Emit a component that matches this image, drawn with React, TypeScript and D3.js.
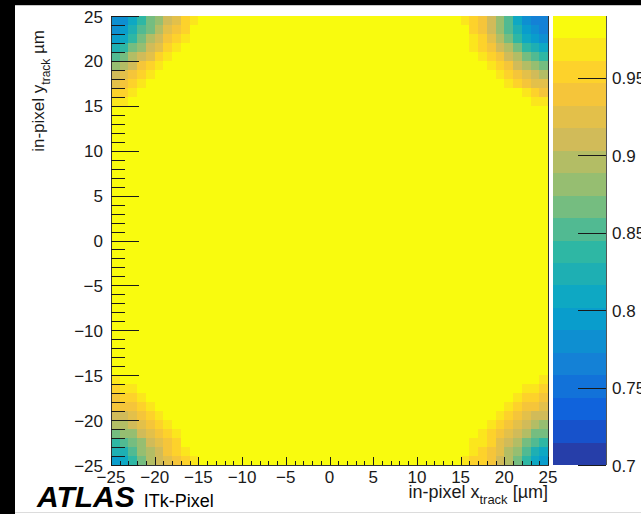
import React from 'react';
import * as d3 from 'd3';

// ---------- data ----------
const xRange = [-25, 25];
const yRange = [-25, 25];
const nBinsX = 50;
const nBinsY = 50;
const zMin = 0.7;
const zMax = 0.99;
const nContours = 20;
const plateauEfficiency = 0.983;

// corner efficiencies: row 0 = edge row at the corner, col 0 = edge column at the corner
const cornerTopLeft = [
  [0.780, 0.780, 0.809, 0.838, 0.867, 0.881, 0.910, 0.925, 0.954, 0.968],
  [0.780, 0.794, 0.823, 0.852, 0.867, 0.896, 0.925, 0.939, 0.954, 0.983],
  [0.794, 0.809, 0.838, 0.867, 0.896, 0.910, 0.939, 0.954, 0.968, 0.983],
  [0.823, 0.838, 0.867, 0.881, 0.910, 0.925, 0.954, 0.968, 0.983, 0.983],
  [0.852, 0.867, 0.896, 0.910, 0.925, 0.954, 0.968, 0.983, 0.983, 0.983],
  [0.881, 0.896, 0.910, 0.939, 0.954, 0.968, 0.983, 0.983, 0.983, 0.983],
  [0.910, 0.925, 0.939, 0.954, 0.968, 0.983, 0.983, 0.983, 0.983, 0.983],
  [0.925, 0.939, 0.954, 0.968, 0.983, 0.983, 0.983, 0.983, 0.983, 0.983],
  [0.954, 0.954, 0.968, 0.983, 0.983, 0.983, 0.983, 0.983, 0.983, 0.983],
  [0.968, 0.968, 0.983, 0.983, 0.983, 0.983, 0.983, 0.983, 0.983, 0.983],
];
const cornerTopRight = [
  [0.765, 0.765, 0.780, 0.809, 0.852, 0.881, 0.910, 0.939, 0.954, 0.968],
  [0.765, 0.780, 0.794, 0.823, 0.852, 0.881, 0.910, 0.939, 0.954, 0.983],
  [0.780, 0.794, 0.809, 0.838, 0.867, 0.896, 0.925, 0.954, 0.968, 0.983],
  [0.809, 0.823, 0.838, 0.867, 0.896, 0.910, 0.939, 0.954, 0.968, 0.983],
  [0.838, 0.852, 0.867, 0.896, 0.910, 0.939, 0.954, 0.968, 0.983, 0.983],
  [0.867, 0.881, 0.896, 0.910, 0.939, 0.954, 0.968, 0.983, 0.983, 0.983],
  [0.896, 0.910, 0.925, 0.939, 0.954, 0.968, 0.983, 0.983, 0.983, 0.983],
  [0.925, 0.925, 0.939, 0.954, 0.968, 0.983, 0.983, 0.983, 0.983, 0.983],
  [0.939, 0.954, 0.968, 0.983, 0.983, 0.983, 0.983, 0.983, 0.983, 0.983],
  [0.968, 0.968, 0.983, 0.983, 0.983, 0.983, 0.983, 0.983, 0.983, 0.983],
];
const cornerBottomLeft = [
  [0.794, 0.809, 0.838, 0.867, 0.896, 0.910, 0.925, 0.939, 0.954, 0.968],
  [0.823, 0.823, 0.852, 0.881, 0.896, 0.910, 0.939, 0.954, 0.968, 0.983],
  [0.838, 0.852, 0.867, 0.881, 0.910, 0.925, 0.939, 0.954, 0.983, 0.983],
  [0.867, 0.881, 0.881, 0.910, 0.925, 0.939, 0.954, 0.968, 0.983, 0.983],
  [0.896, 0.896, 0.910, 0.925, 0.939, 0.954, 0.968, 0.983, 0.983, 0.983],
  [0.910, 0.910, 0.925, 0.939, 0.954, 0.968, 0.983, 0.983, 0.983, 0.983],
  [0.939, 0.939, 0.939, 0.954, 0.968, 0.983, 0.983, 0.983, 0.983, 0.983],
  [0.939, 0.954, 0.954, 0.968, 0.983, 0.983, 0.983, 0.983, 0.983, 0.983],
  [0.954, 0.968, 0.968, 0.983, 0.983, 0.983, 0.983, 0.983, 0.983, 0.983],
  [0.968, 0.983, 0.983, 0.983, 0.983, 0.983, 0.983, 0.983, 0.983, 0.983],
];
const cornerBottomRight = [
  [0.794, 0.809, 0.838, 0.867, 0.896, 0.910, 0.939, 0.954, 0.954, 0.968],
  [0.809, 0.823, 0.852, 0.881, 0.896, 0.925, 0.939, 0.954, 0.968, 0.983],
  [0.838, 0.852, 0.867, 0.896, 0.910, 0.925, 0.954, 0.968, 0.968, 0.983],
  [0.867, 0.867, 0.896, 0.910, 0.925, 0.939, 0.954, 0.968, 0.983, 0.983],
  [0.881, 0.896, 0.910, 0.925, 0.939, 0.954, 0.968, 0.983, 0.983, 0.983],
  [0.910, 0.910, 0.925, 0.939, 0.954, 0.968, 0.983, 0.983, 0.983, 0.983],
  [0.925, 0.939, 0.939, 0.954, 0.968, 0.983, 0.983, 0.983, 0.983, 0.983],
  [0.939, 0.954, 0.954, 0.968, 0.983, 0.983, 0.983, 0.983, 0.983, 0.983],
  [0.954, 0.968, 0.968, 0.983, 0.983, 0.983, 0.983, 0.983, 0.983, 0.983],
  [0.968, 0.983, 0.983, 0.983, 0.983, 0.983, 0.983, 0.983, 0.983, 0.983],
];

const xTickValues = [-25, -20, -15, -10, -5, 0, 5, 10, 15, 20, 25];
const yTickValues = [-25, -20, -15, -10, -5, 0, 5, 10, 15, 20, 25];
const zTickValues = [0.7, 0.75, 0.8, 0.85, 0.9, 0.95];
const zTickLabels = ['0.7', '0.75', '0.8', '0.85', '0.9', '0.95'];

// ROOT kBird palette stops
const birdStops = [0.0, 0.125, 0.25, 0.375, 0.5, 0.625, 0.75, 0.875, 1.0];
const birdRed = [0.2082, 0.0592, 0.0780, 0.0232, 0.1802, 0.5301, 0.8186, 0.9956, 0.9764];
const birdGreen = [0.1664, 0.3599, 0.5041, 0.6419, 0.7178, 0.7492, 0.7328, 0.7862, 0.9832];
const birdBlue = [0.5293, 0.8684, 0.8385, 0.7914, 0.6425, 0.4662, 0.3499, 0.1968, 0.0539];

// ---------- layout ----------
const W = 641;
const H = 514;
const plot = { left: 111, right: 548, top: 16, bottom: 465 };
const cbar = { left: 553, right: 606 };
const FONT = "'Liberation Sans', Arial, Helvetica, sans-serif";
const INK = '#1a1a1a';

const birdScale = d3
  .scaleLinear<string>()
  .domain(birdStops)
  .range(birdStops.map((_, i) => d3.rgb(birdRed[i] * 255, birdGreen[i] * 255, birdBlue[i] * 255).toString()))
  .interpolate(d3.interpolateRgb)
  .clamp(true);

const dz = (zMax - zMin) / nContours;
const bandOf = (z: number) => Math.max(0, Math.min(nContours - 1, Math.floor((z - zMin) / dz)));
const bandColor = (b: number) => birdScale(Math.min(1, (b + 0.99) / nContours));

function buildGrid(): number[][] {
  const g: number[][] = [];
  for (let i = 0; i < nBinsX; i++) {
    g.push(new Array(nBinsY).fill(plateauEfficiency));
  }
  for (let r = 0; r < cornerTopLeft.length; r++) {
    for (let c = 0; c < cornerTopLeft[r].length; c++) {
      g[c][nBinsY - 1 - r] = cornerTopLeft[r][c];
      g[nBinsX - 1 - c][nBinsY - 1 - r] = cornerTopRight[r][c];
      g[c][r] = cornerBottomLeft[r][c];
      g[nBinsX - 1 - c][r] = cornerBottomRight[r][c];
    }
  }
  return g;
}

export default function App() {
  const x = d3.scaleLinear().domain(xRange).range([plot.left, plot.right]);
  const y = d3.scaleLinear().domain(yRange).range([plot.bottom, plot.top]);
  const zs = d3.scaleLinear().domain([zMin, zMax]).range([plot.bottom, plot.top]);
  const grid = buildGrid();
  const bw = (xRange[1] - xRange[0]) / nBinsX;
  const bh = (yRange[1] - yRange[0]) / nBinsY;

  const cells: JSX.Element[] = [];
  for (let i = 0; i < nBinsX; i++) {
    for (let j = 0; j < nBinsY; j++) {
      const x0 = Math.round(x(xRange[0] + i * bw));
      const x1 = Math.round(x(xRange[0] + (i + 1) * bw));
      const y0 = Math.round(y(yRange[0] + (j + 1) * bh));
      const y1 = Math.round(y(yRange[0] + j * bh));
      cells.push(
        <rect key={`c${i}-${j}`} x={x0} y={y0} width={x1 - x0} height={y1 - y0} fill={bandColor(bandOf(grid[i][j]))} />
      );
    }
  }

  const minorX = d3.range(xRange[0], xRange[1] + 0.001, 1).filter((v) => !xTickValues.includes(v));
  const minorY = d3.range(yRange[0], yRange[1] + 0.001, 1).filter((v) => !yTickValues.includes(v));

  const bands = d3.range(nContours).map((b) => {
    const y0 = Math.round(zs(zMin + (b + 1) * dz));
    const y1 = Math.round(zs(zMin + b * dz));
    return <rect key={`b${b}`} x={cbar.left} y={y0} width={cbar.right - cbar.left} height={y1 - y0} fill={bandColor(b)} />;
  });

  return (
    <div style={{ position: 'absolute', left: 0, top: 0, width: W, height: H }}>
      <svg width={W} height={H} style={{ display: 'block' }} fontFamily={FONT}>
        <rect x={0} y={0} width={W} height={H} fill="#ffffff" />
        <rect x={0} y={0} width={W} height={5} fill="#000000" />
        <rect x={0} y={0} width={15} height={H} fill="#000000" />
        <line x1={15} x2={W} y1={5.5} y2={5.5} stroke="#c8c8c8" />
        <line x1={15} x2={W} y1={512.5} y2={512.5} stroke="#dcdcdc" />

        <g shapeRendering="crispEdges">{cells}</g>

        {/* frame */}
        <g stroke="#333" strokeWidth={1} shapeRendering="crispEdges">
          <line x1={plot.left + 0.5} x2={plot.left + 0.5} y1={plot.top} y2={plot.bottom} />
          <line x1={plot.left} x2={plot.right} y1={plot.bottom + 0.5} y2={plot.bottom + 0.5} />
          <line x1={plot.right + 0.5} x2={plot.right + 0.5} y1={plot.top} y2={plot.bottom + 1} />
        </g>

        {/* ticks */}
        <g stroke={INK} strokeWidth={1} shapeRendering="crispEdges">
          {yTickValues.map((v) => (
            <line key={`ym${v}`} x1={plot.left} x2={plot.left + 28} y1={Math.round(y(v)) + 0.5} y2={Math.round(y(v)) + 0.5} />
          ))}
          {minorY.map((v) => (
            <line key={`yn${v}`} x1={plot.left} x2={plot.left + 14} y1={Math.round(y(v)) + 0.5} y2={Math.round(y(v)) + 0.5} />
          ))}
          {xTickValues.map((v) => (
            <line key={`xm${v}`} x1={Math.round(x(v)) + 0.5} x2={Math.round(x(v)) + 0.5} y1={plot.bottom} y2={plot.bottom - 8} />
          ))}
          {minorX.map((v) => (
            <line key={`xn${v}`} x1={Math.round(x(v)) + 0.5} x2={Math.round(x(v)) + 0.5} y1={plot.bottom} y2={plot.bottom - 4} />
          ))}
        </g>

        {/* y tick labels */}
        <g fontSize={17} fill={INK} textAnchor="end">
          {yTickValues.map((v) => (
            <text key={`yl${v}`} x={plot.left - 8} y={y(v) + 1} dominantBaseline="central">
              {v < 0 ? `\u2212${-v}` : `${v}`}
            </text>
          ))}
        </g>
        {/* x tick labels */}
        <g fontSize={17} fill={INK} textAnchor="middle">
          {xTickValues.map((v) => (
            <text key={`xl${v}`} x={x(v)} y={483}>
              {v < 0 ? `\u2212${-v}` : `${v}`}
            </text>
          ))}
        </g>

        {/* axis titles */}
        <text x={plot.right} y={498} fontSize={18} fill={INK} textAnchor="end">
          <tspan>in-pixel x</tspan>
          <tspan fontSize={13} dy={6}>track</tspan>
          <tspan dy={-6}> [µm]</tspan>
        </text>
        <text transform={`translate(44, 30) rotate(-90)`} fontSize={17} fill={INK} textAnchor="end">
          <tspan>in-pixel y</tspan>
          <tspan fontSize={12} dy={6}>track</tspan>
          <tspan dy={-6}> µm</tspan>
        </text>

        {/* colour bar */}
        <g shapeRendering="crispEdges">{bands}</g>
        <line x1={cbar.right + 0.5} x2={cbar.right + 0.5} y1={plot.top} y2={plot.bottom} stroke="#555" shapeRendering="crispEdges" />
        <g stroke={INK} shapeRendering="crispEdges">
          {zTickValues.map((v) => (
            <line key={`zt${v}`} x1={cbar.right} x2={cbar.right - 28} y1={Math.round(zs(v)) + 0.5} y2={Math.round(zs(v)) + 0.5} />
          ))}
        </g>
        <g fontSize={17} fill={INK}>
          {zTickValues.map((v, i) => (
            <text key={`zl${v}`} x={cbar.right + 6} y={zs(v) + 1} dominantBaseline="central">
              {zTickLabels[i]}
            </text>
          ))}
        </g>

        {/* ATLAS label */}
        <text x={37} y={507} fill="#000">
          <tspan fontSize={30} fontWeight="bold" fontStyle="italic">ATLAS</tspan>
          <tspan fontSize={18} dx={9}>ITk-Pixel</tspan>
        </text>
      </svg>
    </div>
  );
}
